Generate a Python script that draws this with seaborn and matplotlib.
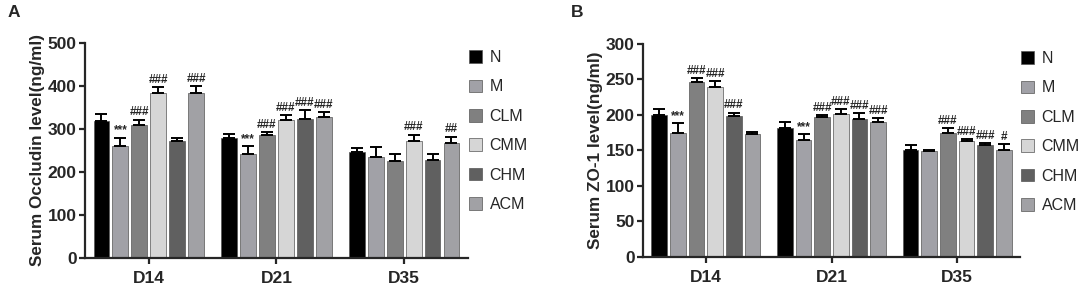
import matplotlib
matplotlib.use('Agg')
import matplotlib.pyplot as plt
import seaborn as sns
import pandas as pd

days = ['D14', 'D21', 'D35']
groups = ['N', 'M', 'CLM', 'CMM', 'CHM', 'ACM']
colors = ['#000000', '#a0a0a8', '#808080', '#d6d6d6', '#606060', '#a0a0a6']

# Panel A: serum occludin (ng/ml), mean and upper SD per group, per day
occ_mean = {
    'N': [319, 280, 247],
    'M': [261, 242, 236],
    'CLM': [310, 285, 226],
    'CMM': [384, 321, 273],
    'CHM': [272, 324, 229],
    'ACM': [384, 329, 268],
}
occ_err = {
    'N': [15, 8, 8],
    'M': [19, 18, 22],
    'CLM': [12, 7, 17],
    'CMM': [14, 12, 14],
    'CHM': [8, 20, 12],
    'ACM': [16, 11, 14],
}
occ_sig = {
    'N': ['', '', ''],
    'M': ['***', '***', ''],
    'CLM': ['###', '###', ''],
    'CMM': ['###', '###', '###'],
    'CHM': ['', '###', ''],
    'ACM': ['###', '###', '##'],
}

# Panel B: serum ZO-1 (ng/ml)
zo_mean = {
    'N': [200, 181.5, 150.5],
    'M': [175, 164.5, 149],
    'CLM': [246, 197.5, 174.5],
    'CMM': [240, 201, 163],
    'CHM': [198, 194, 158],
    'ACM': [173, 190, 150],
}
zo_err = {
    'N': [8, 8, 7],
    'M': [13, 8, 2],
    'CLM': [6, 2, 7],
    'CMM': [8, 7, 2.5],
    'CHM': [5, 8, 2],
    'ACM': [3, 5, 9],
}
zo_sig = {
    'N': ['', '', ''],
    'M': ['***', '***', ''],
    'CLM': ['###', '###', '###'],
    'CMM': ['###', '###', '###'],
    'CHM': ['###', '###', '###'],
    'ACM': ['', '###', '#'],
}

sns.set_style('ticks')
plt.rcParams['font.family'] = ['Liberation Sans', 'DejaVu Sans']


def long_df(means):
    rows = []
    for g in groups:
        for d, v in zip(days, means[g]):
            rows.append({'day': d, 'group': g, 'value': v})
    return pd.DataFrame(rows)


def draw_panel(ax, means, errs, sigs, ylim, ystep, ylabel):
    df = long_df(means)
    sns.barplot(data=df, x='day', y='value', hue='group', order=days,
                hue_order=groups, palette=colors, width=0.89, gap=0.16,
                errorbar=None, edgecolor='#555555', linewidth=0.5, ax=ax)
    span = ylim[1] - ylim[0]
    for g, cont in zip(groups, ax.containers):
        for i, bar in enumerate(cont):
            xc = bar.get_x() + bar.get_width() / 2
            top = bar.get_height()
            e = errs[g][i]
            ax.errorbar(xc, top, yerr=[[0], [e]], fmt='none', ecolor='black',
                        elinewidth=1.4, capsize=4, capthick=1.4, zorder=3)
            if sigs[g][i]:
                ax.text(xc, top + e + span * 0.006, sigs[g][i], ha='center',
                        va='bottom', fontsize=8.5, fontweight='bold')
    ax.set_xlim(-0.5, 2.5)
    ax.set_ylim(*ylim)
    ax.set_yticks(range(ylim[0], ylim[1] + 1, ystep))
    ax.set_xlabel('')
    ax.set_ylabel(ylabel, fontsize=12.3, fontweight='bold', labelpad=2)
    for lab in ax.get_xticklabels() + ax.get_yticklabels():
        lab.set_fontweight('bold')
    ax.tick_params(axis='both', labelsize=12.5, width=1.6, length=4.5, pad=1.5)
    ax.tick_params(axis='x', pad=5)
    sns.despine(ax=ax)
    for s in ['left', 'bottom']:
        ax.spines[s].set_linewidth(1.6)
    handles, labels = ax.get_legend_handles_labels()
    ax.legend(handles, labels, loc='upper left', bbox_to_anchor=(1.002, 0.967),
              frameon=False, fontsize=11.5, handlelength=0.85,
              handleheight=0.85, handletextpad=0.45, labelspacing=0.9,
              borderpad=0.0, borderaxespad=0.0)


fig = plt.figure(figsize=(10.84, 2.88), dpi=100)
ax1 = fig.add_axes([0.0784, 0.1042, 0.3533, 0.7465])
ax2 = fig.add_axes([0.5932, 0.1087, 0.3478, 0.7385])

draw_panel(ax1, occ_mean, occ_err, occ_sig, (0, 500), 100,
           'Serum Occludin level(ng/ml)')
draw_panel(ax2, zo_mean, zo_err, zo_sig, (0, 300), 50,
           'Serum ZO-1 level(ng/ml)')

fig.text(0.007, 0.955, 'A', fontsize=12.5, fontweight='bold', va='center')
fig.text(0.527, 0.955, 'B', fontsize=12.5, fontweight='bold', va='center')

plt.savefig('out.png', dpi=100)
